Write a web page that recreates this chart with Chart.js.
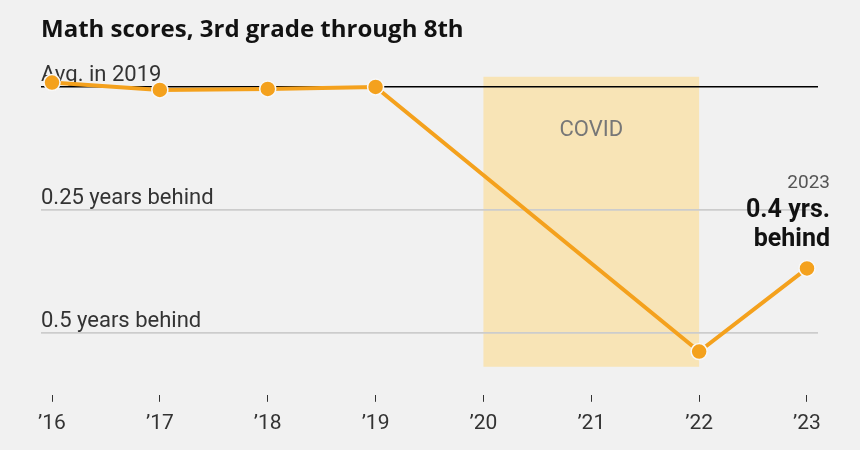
<!DOCTYPE html>
<html>
<head>
<meta charset="utf-8">
<script src="https://cdn.jsdelivr.net/npm/chart.js@4"></script>
<style>
  body { margin: 0; background: #f1f1f1; }
  #wrap { width: 860px; height: 450px; }
</style>
</head>
<body>
<div id="wrap"><canvas id="mathCanvas"></canvas></div>
<script>
// annees mesurees et retard (en annees scolaires) par rapport a la moyenne 2019
const years = [2016, 2017, 2018, 2019, 2022, 2023];
const yearsBehind = [-0.009, 0.006, 0.004, 0, 0.538, 0.369];

const xTickYears = [2016, 2017, 2018, 2019, 2020, 2021, 2022, 2023];
const yTickValues = [0, 0.25, 0.5];
const yTickLabels = ['Avg. in 2019', '0.25 years behind', '0.5 years behind'];

// periode covid (annees) et etendue verticale de la zone
const covidYears = [2020, 2022];
const covidRange = [-0.0206, 0.569];

const orange = '#f4a11d';
const fontFam = 'Roboto, "Liberation Sans", sans-serif';

const covidBox = {
    id: 'covidBox',
    beforeDraw(chart) {
        const {ctx, scales: {x, y}} = chart;
        const left = x.getPixelForValue(covidYears[0]);
        const right = x.getPixelForValue(covidYears[1]);
        const top = y.getPixelForValue(covidRange[0]);
        const bottom = y.getPixelForValue(covidRange[1]);
        ctx.save();
        ctx.fillStyle = '#f8e4b6';
        ctx.fillRect(left, top, right - left, bottom - top);
        ctx.fillStyle = '#777';
        ctx.font = '22px ' + fontFam;
        ctx.textAlign = 'center';
        ctx.textBaseline = 'middle';
        ctx.fillText('COVID', (left + right) / 2, top + 54);
        ctx.restore();
    }
};

// etiquette de la derniere annee
const lastLabel = {
    id: 'lastLabel',
    afterDatasetsDraw(chart) {
        const {ctx} = chart;
        const pts = chart.getDatasetMeta(0).data;
        const p = pts[pts.length - 1];
        const xr = p.x + 23;
        ctx.save();
        ctx.textAlign = 'right';
        ctx.textBaseline = 'middle';
        ctx.fillStyle = '#555';
        ctx.font = '19px ' + fontFam;
        ctx.fillText(String(years[years.length - 1]), xr, p.y - 85);
        ctx.fillStyle = '#121212';
        ctx.font = 'bold 25px ' + fontFam;
        ctx.fillText('0.4 yrs.', xr, p.y - 58);
        ctx.fillText('behind', xr, p.y - 29);
        ctx.restore();
    }
};

new Chart(document.getElementById('mathCanvas'), {
    type: 'line',
    data: {
        datasets: [{
            data: years.map((yr, i) => ({x: yr, y: yearsBehind[i]})),
            borderColor: orange,
            borderWidth: 4,
            pointRadius: 8,
            pointBackgroundColor: orange,
            pointBorderColor: '#f8f8f8',
            pointBorderWidth: 1.5,
            tension: 0,
            clip: false
        }]
    },
    options: {
        responsive: true,
        maintainAspectRatio: false,
        animation: false,
        layout: {padding: {top: 0, left: 41, right: 42, bottom: 5}},
        plugins: {
            legend: {display: false},
            tooltip: {enabled: false},
            title: {
                display: true,
                text: 'Math scores, 3rd grade through 8th',
                align: 'start',
                color: '#121212',
                font: {family: '"Open Sans", Roboto, sans-serif', size: 24, weight: 'bold'},
                padding: {top: 16, bottom: 32}
            }
        },
        scales: {
            x: {
                type: 'linear',
                min: 2015.898,
                max: 2023.102,
                afterBuildTicks: (axis) => { axis.ticks = xTickYears.map(v => ({value: v})); },
                grid: {drawOnChartArea: false, drawTicks: true, tickLength: 7, tickColor: '#333', tickWidth: 1},
                border: {display: false},
                ticks: {
                    color: '#333',
                    font: {family: fontFam, size: 21},
                    padding: 9,
                    maxRotation: 0,
                    callback: (v) => '\u2019' + String(v).slice(2)
                }
            },
            y: {
                type: 'linear',
                reverse: true,
                min: -0.0206,
                max: 0.626,
                afterBuildTicks: (axis) => { axis.ticks = yTickValues.map(v => ({value: v})); },
                grid: {
                    drawTicks: false,
                    color: (c) => c.tick && c.tick.value === 0 ? '#000' : '#cccccc',
                    lineWidth: (c) => c.tick && c.tick.value === 0 ? 1.6 : 1.8
                },
                border: {display: false},
                ticks: {
                    mirror: true,
                    padding: 0,
                    labelOffset: -11,
                    color: '#333',
                    font: {family: fontFam, size: 22},
                    callback: (v) => yTickLabels[yTickValues.indexOf(v)]
                }
            }
        }
    },
    plugins: [covidBox, lastLabel]
});
</script>
</body>
</html>
